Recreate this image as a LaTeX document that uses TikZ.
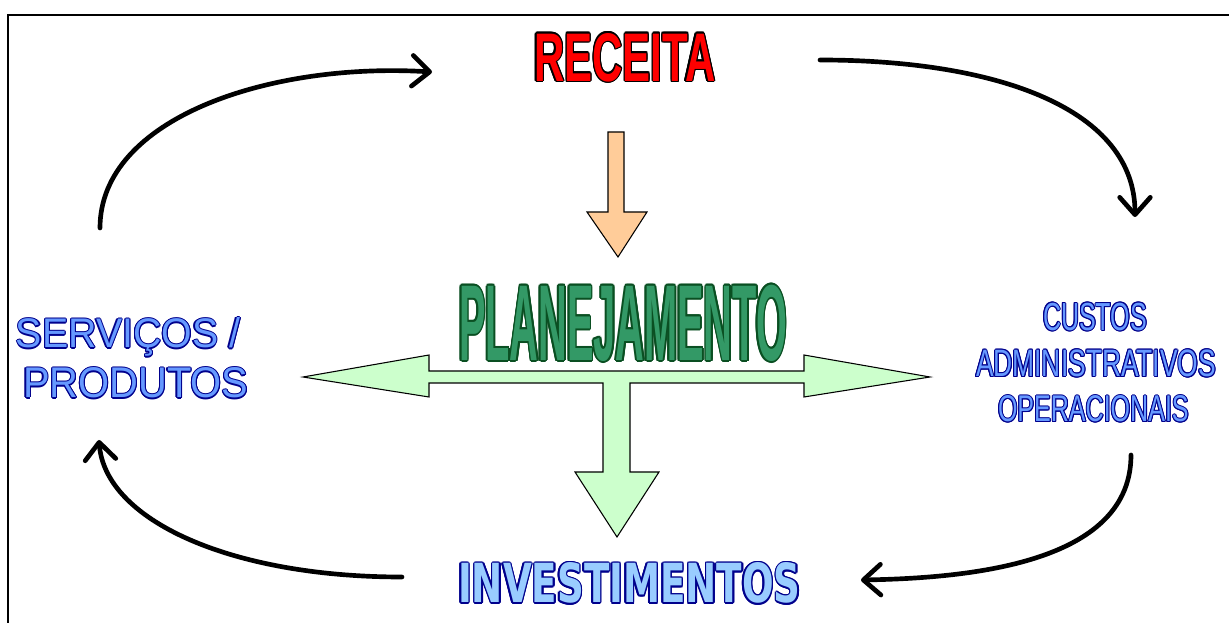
\documentclass[tikz,border=0pt]{standalone}
\usepackage{fontspec}
\setmainfont{Liberation Sans}
\newfontfamily\verd{DejaVu Sans}
\usetikzlibrary{arrows.meta}
\definecolor{recred}{HTML}{FF0000}
\definecolor{plangreen}{HTML}{339966}
\definecolor{plandark}{HTML}{0A4F22}
\definecolor{invblue}{HTML}{99CCFF}
\definecolor{midblue}{HTML}{6699FF}
\definecolor{navyline}{HTML}{00008C}
\definecolor{orangefill}{HTML}{FFCC99}
\definecolor{greenfill}{HTML}{CCFFCC}
\tikzset{
  lbl/.style={inner sep=0pt, outer sep=0pt, anchor=north west},
  arc/.style={line width=3.5pt, line cap=round, line join=round,
    -{Straight Barb[length=13pt,width=23pt,line cap=round,line join=round]}},
  blockarrow/.style={draw=black, line width=0.8pt, line join=miter},
}
% outlined label: #1 name, #2 position, #3 outline colour, #4 fill colour,
% #5 outline offset (px), #6 width (pt), #7 height (pt), #8 font, #9 text
\newcommand\olabel[9]{%
  \foreach \ang in {0,30,...,330}{%
    \node[lbl, text=#3] (#1-o\ang) at (#2) [shift={(\ang:#5)}] {\resizebox{#6pt}{#7pt}{#8#9}};}
  \node[lbl, text=#4] (#1) at (#2) {\resizebox{#6pt}{#7pt}{#8#9}};}
\begin{document}
\begin{tikzpicture}[x=0.75pt,y=-0.75pt]
\useasboundingbox (0,0) rectangle (1229,623);
% frame
\draw[line width=1.6pt] (8,623) -- (8,15) -- (1229,15);

% block arrows
\path[blockarrow, fill=orangefill] (608,132) -- (624,132) -- (624,212) -- (647,212)
  -- (618,257) -- (587,212) -- (608,212) -- cycle;
\path[blockarrow, fill=greenfill] (303,377) -- (429,355) -- (429,371) -- (804,371)
  -- (804,355) -- (930,377) -- (804,397) -- (804,383) -- (630,383) -- (630,472)
  -- (659,472) -- (617,537) -- (575,472) -- (603,472) -- (603,383) -- (429,383)
  -- (429,397) -- cycle;

% texts
\olabel{rec}{534,33}{black}{recred}{1.2}{136}{36}{\bfseries}{RECEITA}
\olabel{plan}{459,285}{plandark}{plangreen}{1.7}{246}{56.5}{\bfseries}{PLANEJAMENTO}
\olabel{inv}{458,563}{navyline}{invblue}{1.5}{257}{30}{\verd\bfseries}{INVESTIMENTOS}
\olabel{serv1}{16,318}{navyline}{midblue}{1.1}{168}{22.5}{}{SERVIÇOS /}
\olabel{serv2}{23,368}{navyline}{midblue}{1.1}{169}{22.5}{}{PRODUTOS}
\olabel{cus1}{1043,303}{navyline}{midblue}{1.0}{78}{20.5}{}{CUSTOS}
\olabel{cus2}{976,350}{navyline}{midblue}{1.0}{180}{20}{}{ADMINISTRATIVOS}
\olabel{cus3}{998,396}{navyline}{midblue}{1.0}{143}{19.5}{}{OPERACIONAIS}

% cycle arcs
\coordinate (a1) at (100,228);
\coordinate (a2) at (432,72);
\coordinate (a3) at (820,60);
\coordinate (a4) at (1135,217);
\coordinate (a5) at (1131,455);
\coordinate (a6) at (861,580);
\coordinate (a7) at (402,577);
\coordinate (a8) at (99,440);
\draw[arc] (a1) .. controls (100,118) and (270,62) .. (a2);
\draw[arc] (a3) .. controls (1000,60) and (1135,110) .. (a4);
\draw[arc] (a5) .. controls (1131,560) and (980,578) .. (a6);
\draw[arc] (a7) .. controls (230,577) and (105,520) .. (a8);
\end{tikzpicture}
\end{document}
